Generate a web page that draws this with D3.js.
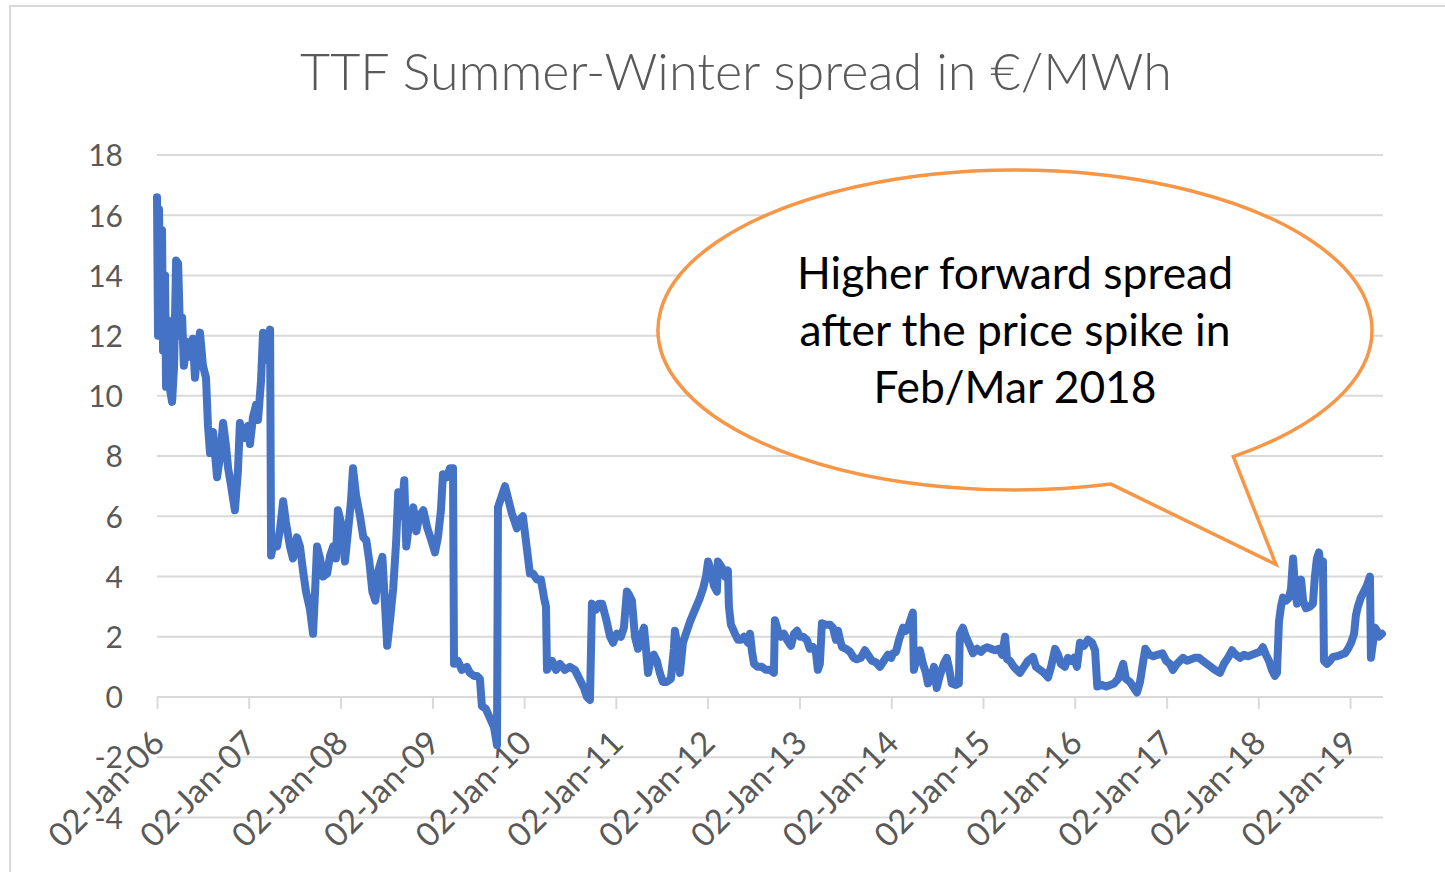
<!DOCTYPE html>
<html>
<head>
<meta charset="utf-8">
<script src="https://cdnjs.cloudflare.com/ajax/libs/d3/7.8.5/d3.min.js"></script>
<style>
body{margin:0;background:#fff;}
svg{display:block;font-family:Lato,"Open Sans",sans-serif;}
</style>
</head>
<body>
<svg id="chart" width="1445" height="872"></svg>
<script>
//data
const titleText = "TTF Summer-Winter spread in €/MWh";
const calloutLines = ["Higher forward spread", "after the price spike in", "Feb/Mar 2018"];
const yTicks = [-4, -2, 0, 2, 4, 6, 8, 10, 12, 14, 16, 18];
const xTicks = ["2006-01-02","2007-01-02","2008-01-02","2009-01-02","2010-01-02","2011-01-02","2012-01-02",
	"2013-01-02","2014-01-02","2015-01-02","2016-01-02","2017-01-02","2018-01-02","2019-01-02"];
const xEnd = "2019-05-09";

const dates = [
	"2006-01-02","2006-01-06","2006-01-10","2006-01-14","2006-01-22","2006-01-26","2006-02-03","2006-02-07","2006-02-15","2006-02-23",
	"2006-03-03","2006-03-11","2006-03-19","2006-03-27","2006-04-04","2006-04-12","2006-04-19","2006-05-01","2006-05-13","2006-05-25",
	"2006-06-02","2006-06-14","2006-06-22","2006-07-04","2006-07-16","2006-07-24","2006-08-01","2006-08-13","2006-08-29","2006-09-10",
	"2006-09-22","2006-10-04","2006-10-12","2006-10-24","2006-11-08","2006-11-20","2006-11-28","2006-12-14","2006-12-30",
	"2007-01-07","2007-01-19","2007-01-31","2007-02-08","2007-02-20","2007-02-28","2007-03-16","2007-03-28","2007-04-01","2007-04-13",
	"2007-04-25","2007-05-07","2007-05-19","2007-05-30","2007-06-15","2007-06-27","2007-07-13","2007-07-25","2007-08-06","2007-08-18",
	"2007-09-03","2007-09-15","2007-09-23","2007-10-01","2007-10-13","2007-10-25","2007-11-10","2007-11-22","2007-12-04","2007-12-15","2007-12-23",
	"2008-01-04","2008-01-20","2008-02-01","2008-02-13","2008-02-21","2008-03-04","2008-03-20","2008-04-02","2008-04-14","2008-04-26",
	"2008-05-08","2008-05-20","2008-06-01","2008-06-17","2008-06-29","2008-07-06","2008-07-18","2008-07-30","2008-08-11","2008-08-19",
	"2008-08-31","2008-09-12","2008-09-20","2008-10-02","2008-10-18","2008-10-30","2008-11-11","2008-11-27","2008-12-13","2008-12-29",
	"2009-01-12","2009-01-24","2009-02-05","2009-02-13","2009-03-01","2009-03-13","2009-03-25","2009-03-29","2009-04-13","2009-04-29",
	"2009-05-19","2009-05-31","2009-06-16","2009-06-28","2009-07-10","2009-07-18","2009-08-03","2009-08-19","2009-09-04","2009-09-16",
	"2009-09-20","2009-10-06","2009-10-18","2009-10-30","2009-11-14","2009-11-26","2009-12-04","2009-12-16","2009-12-28",
	"2010-01-09","2010-01-25","2010-02-06","2010-02-22","2010-03-10","2010-03-22","2010-03-30","2010-04-03","2010-04-23","2010-05-09",
	"2010-05-24","2010-06-13","2010-07-03","2010-07-23","2010-08-04","2010-08-16","2010-08-28","2010-09-09","2010-09-21","2010-09-29",
	"2010-10-15","2010-10-27","2010-11-08","2010-11-24","2010-12-10","2010-12-22",
	"2011-01-06","2011-01-22","2011-02-03","2011-02-15","2011-02-23","2011-03-07","2011-03-19","2011-03-31","2011-04-12","2011-04-24",
	"2011-05-02","2011-05-10","2011-05-22","2011-06-02","2011-06-14","2011-06-26","2011-07-08","2011-07-24","2011-08-09","2011-08-21",
	"2011-08-25","2011-09-06","2011-09-14","2011-09-26","2011-10-12","2011-10-24","2011-11-13","2011-12-03","2011-12-15","2011-12-27",
	"2012-01-04","2012-01-16","2012-01-27","2012-02-08","2012-02-12","2012-02-28","2012-03-11","2012-03-23","2012-03-27","2012-04-04",
	"2012-04-20","2012-05-02","2012-05-14","2012-05-26","2012-06-11","2012-06-19","2012-06-27","2012-07-05","2012-07-20","2012-08-05",
	"2012-08-21","2012-09-06","2012-09-22","2012-09-26","2012-10-08","2012-10-20","2012-11-01","2012-11-13","2012-11-29","2012-12-11","2012-12-23",
	"2013-01-04","2013-01-16","2013-01-31","2013-02-12","2013-02-24","2013-03-08","2013-03-16","2013-03-24","2013-04-01","2013-04-17",
	"2013-05-03","2013-05-15","2013-05-27","2013-06-04","2013-06-12","2013-06-20","2013-07-06","2013-07-22","2013-08-06","2013-08-18",
	"2013-09-03","2013-09-19","2013-10-01","2013-10-17","2013-11-02","2013-11-18","2013-12-04","2013-12-20",
	"2014-01-02","2014-01-09","2014-01-21","2014-02-02","2014-02-18","2014-03-01","2014-03-13","2014-03-29","2014-04-02","2014-04-14",
	"2014-04-26","2014-05-08","2014-05-20","2014-05-28","2014-06-09","2014-06-21","2014-07-02","2014-07-14","2014-07-30","2014-08-11",
	"2014-08-19","2014-08-31","2014-09-16","2014-09-28","2014-10-02","2014-10-14","2014-10-26","2014-11-11","2014-11-23","2014-12-09","2014-12-25",
	"2015-01-06","2015-01-18","2015-02-03","2015-02-19","2015-03-07","2015-03-19","2015-03-31","2015-04-08","2015-04-19","2015-05-05",
	"2015-05-17","2015-05-29","2015-06-14","2015-06-30","2015-07-20","2015-08-01","2015-08-17","2015-09-02","2015-09-18","2015-09-30",
	"2015-10-16","2015-10-28","2015-11-08","2015-11-24","2015-12-06","2015-12-18","2015-12-30",
	"2016-01-11","2016-01-23","2016-02-08","2016-02-24","2016-03-11","2016-03-23","2016-04-01","2016-04-20","2016-05-06","2016-05-22",
	"2016-06-07","2016-06-23","2016-07-01","2016-07-13","2016-07-24","2016-08-09","2016-08-21","2016-09-06","2016-09-18","2016-10-01",
	"2016-10-09","2016-10-25","2016-11-10","2016-11-26","2016-12-16","2016-12-31",
	"2017-01-15","2017-01-27","2017-02-12","2017-02-24","2017-03-08","2017-03-24","2017-04-09","2017-04-25","2017-05-11","2017-05-26",
	"2017-06-11","2017-06-27","2017-07-13","2017-08-02","2017-08-18","2017-09-03","2017-09-19","2017-10-05","2017-10-21","2017-11-06",
	"2017-11-22","2017-12-08","2017-12-23",
	"2018-01-08","2018-01-20","2018-02-01","2018-02-13","2018-02-25","2018-03-09","2018-03-17","2018-03-25","2018-04-02","2018-04-10",
	"2018-04-22","2018-05-04","2018-05-12","2018-05-20","2018-05-28","2018-06-05","2018-06-13","2018-06-21","2018-06-29","2018-07-10",
	"2018-07-26","2018-08-07","2018-08-15","2018-08-23","2018-08-31","2018-09-08","2018-09-16","2018-09-20","2018-10-02","2018-10-14",
	"2018-10-26","2018-11-11","2018-11-27","2018-12-13","2018-12-25",
	"2019-01-06","2019-01-18","2019-01-25","2019-02-02","2019-02-14","2019-02-26","2019-03-10","2019-03-22","2019-03-26","2019-04-03",
	"2019-04-11","2019-04-19","2019-04-27","2019-05-09"
];

const spread = [
	16.6,12.0,16.2,13.0,15.5,11.5,14.0,10.3,12.5,10.2,
	9.8,11.0,14.5,14.4,12.0,12.6,11.0,11.8,11.3,11.9,
	10.6,11.6,12.1,11.0,10.6,9.0,8.1,8.8,7.3,8.0,
	9.1,8.3,7.6,7.0,6.2,7.5,9.1,8.6,9.0,
	8.4,9.3,9.7,9.2,10.5,12.1,11.2,12.2,4.7,5.2,
	5.0,5.6,6.5,5.8,5.0,4.6,5.3,5.0,4.2,3.5,
	2.9,2.1,3.5,5.0,4.6,4.0,4.1,4.7,5.0,4.6,6.2,
	5.8,4.5,5.5,6.5,7.6,6.7,6.0,5.3,5.2,4.5,
	3.5,3.2,4.2,4.65,2.8,1.7,2.6,3.6,5.2,6.8,
	6.0,7.2,5.0,5.8,6.3,5.5,6.0,6.2,5.6,5.2,
	4.8,5.3,6.2,7.4,7.3,7.6,7.6,1.1,1.2,0.9,
	1.0,0.8,0.7,0.7,0.6,-0.3,-0.4,-0.7,-1.0,-1.6,
	6.3,6.7,7.0,6.6,6.1,5.8,5.6,5.9,6.0,
	5.2,4.1,4.1,3.9,3.9,3.3,3.0,0.9,1.2,0.9,
	1.1,0.9,1.0,0.9,0.7,0.5,0.3,0.0,-0.1,3.1,
	2.9,3.1,3.1,2.6,2.0,1.8,
	2.1,2.0,2.3,3.5,3.4,3.2,2.0,1.6,2.0,2.3,
	1.6,0.8,1.3,1.4,1.2,0.8,0.5,0.5,0.6,1.6,
	2.2,1.6,0.8,1.8,2.2,2.5,2.9,3.3,3.6,4.0,
	4.5,4.2,3.7,3.5,4.5,4.3,4.0,4.2,3.0,2.4,
	2.1,1.9,1.9,2.0,1.8,2.1,1.5,1.1,1.0,1.0,
	0.9,0.9,0.8,2.55,2.2,2.0,2.1,1.9,1.7,2.1,2.2,
	2.0,2.0,1.9,1.6,1.66,1.5,0.9,1.1,2.45,2.4,
	2.4,2.3,1.9,2.2,1.9,1.66,1.6,1.5,1.3,1.25,
	1.3,1.55,1.4,1.2,1.15,1.0,1.2,1.4,
	1.3,1.45,1.5,1.9,2.3,2.2,2.4,2.8,0.9,1.3,
	1.55,1.1,0.8,0.45,0.6,1.0,0.3,0.7,1.1,1.3,
	1.0,0.45,0.4,0.45,2.1,2.3,2.0,1.7,1.45,1.6,1.5,
	1.6,1.65,1.6,1.55,1.6,1.4,2.0,1.25,1.2,1.0,
	0.9,0.8,1.0,1.2,1.33,1.0,0.9,0.8,0.65,1.0,
	1.6,1.4,1.1,1.0,1.3,1.2,1.3,
	1.0,1.8,1.7,1.9,1.8,1.55,0.35,0.4,0.35,0.4,
	0.45,0.6,0.8,1.1,0.6,0.5,0.35,0.15,0.5,1.2,
	1.6,1.4,1.35,1.4,1.45,1.2,
	1.1,0.9,1.1,1.2,1.3,1.2,1.25,1.3,1.3,1.2,
	1.1,1.0,0.9,0.8,1.1,1.3,1.55,1.4,1.3,1.4,
	1.35,1.4,1.45,
	1.5,1.65,1.4,1.2,0.9,0.7,0.8,2.5,3.0,3.3,
	3.2,3.3,3.6,4.6,3.6,3.1,3.6,3.9,3.2,2.95,
	3.0,3.1,4.0,4.6,4.8,4.2,4.5,1.2,1.1,1.2,
	1.33,1.35,1.4,1.45,1.6,
	1.8,2.1,2.7,3.0,3.3,3.5,3.7,4.0,1.3,1.8,
	2.3,2.2,2.0,2.1
];

//scales
const parse = d3.timeParse("%Y-%m-%d");
const fmt = d3.timeFormat("%d-%b-%y");
const series = dates.map((d, i) => ({date: parse(d), value: spread[i]}));

const svg = d3.select("#chart");
const x = d3.scaleTime()
	.domain([parse(xTicks[0]), parse(xEnd)])
	.range([157, 1382]);
const y = d3.scaleLinear()
	.domain([-4, 18])
	.range([817.4, 155]);

//background and frame
svg.append("rect").attr("width", 1445).attr("height", 872).attr("fill", "#fff");
svg.append("rect")
	.attr("x", 10).attr("y", 6).attr("width", 1460).attr("height", 900)
	.attr("fill", "none").attr("stroke", "#d9d9d9").attr("stroke-width", 2);

//title
const title = svg.append("text")
	.attr("x", 736).attr("y", 90)
	.attr("text-anchor", "middle")
	.attr("fill", "#595959")
	.attr("font-weight", 300)
	.attr("font-size", 48)
	.text(titleText);
fitWidth(title, 872);

//gridlines
svg.append("g")
	.selectAll("line")
	.data(yTicks)
	.join("line")
	.attr("x1", x.range()[0]).attr("x2", x.range()[1] + 1)
	.attr("y1", d => y(d)).attr("y2", d => y(d))
	.attr("stroke", "#d9d9d9").attr("stroke-width", 2);

//y axis labels (plain hyphen for negatives, as in the source)
const yAxis = svg.append("g")
	.attr("transform", "translate(123,0)")
	.call(d3.axisLeft(y).tickValues(yTicks).tickFormat(d => String(d)).tickSize(0).tickPadding(0));
yAxis.select(".domain").remove();
yAxis.selectAll("text")
	.attr("font-family", "Lato, 'Open Sans', sans-serif")
	.attr("font-size", 30)
	.attr("fill", "#595959")
	.attr("dy", "0.36em");

//x axis on the zero line
const xAxis = svg.append("g")
	.attr("transform", "translate(0," + y(0) + ")")
	.call(d3.axisBottom(x).tickValues(xTicks.map(parse)).tickFormat(fmt).tickSize(12));
xAxis.select(".domain").remove();
xAxis.selectAll(".tick line").attr("stroke", "#d9d9d9").attr("stroke-width", 2);
xAxis.selectAll("text")
	.attr("font-family", "Lato, 'Open Sans', sans-serif")
	.attr("font-size", 33)
	.attr("fill", "#595959")
	.attr("text-anchor", "end")
	.attr("x", 0).attr("y", 0).attr("dy", 0)
	.attr("transform", "translate(9,48) rotate(-45)");

//series line
const line = d3.line()
	.x(d => x(d.date))
	.y(d => y(d.value));
svg.append("path")
	.datum(series)
	.attr("d", line)
	.attr("fill", "none")
	.attr("stroke", "#4472C4")
	.attr("stroke-width", 8)
	.attr("stroke-linejoin", "round")
	.attr("stroke-linecap", "round");

//callout bubble
const cx = 1015, cy = 330, rx = 357, ry = 160;
const t1 = 74.4 * Math.PI / 180, t2 = 52.3 * Math.PI / 180;
const tip = [x(parse("2018-03-13")), y(4.4)];
const p1 = [cx + rx * Math.cos(t1), cy + ry * Math.sin(t1)];
const p2 = [cx + rx * Math.cos(t2), cy + ry * Math.sin(t2)];
svg.append("path")
	.attr("d", "M" + p2 + " A" + rx + "," + ry + " 0 1 0 " + p1 + " L" + tip + " Z")
	.attr("fill", "#fff")
	.attr("stroke", "#F79646")
	.attr("stroke-width", 3.5)
	.attr("stroke-linejoin", "miter");

const callout = svg.append("text")
	.attr("text-anchor", "middle")
	.attr("fill", "#000")
	.attr("font-size", 42);
callout.selectAll("tspan")
	.data(calloutLines)
	.join("tspan")
	.attr("x", cx)
	.attr("y", (d, i) => 289 + i * 57)
	.text(d => d);
fitWidth(callout.select("tspan"), 436, callout);

//文字幅を目標幅に合わせる
function fitWidth(sel, target, applyTo){
	const node = sel.node();
	const size = parseFloat((applyTo || sel).attr("font-size"));
	const w = node.getComputedTextLength();
	if(w > 0){
		(applyTo || sel).attr("font-size", (size * target / w).toFixed(2));
	}
}
</script>
</body>
</html>
